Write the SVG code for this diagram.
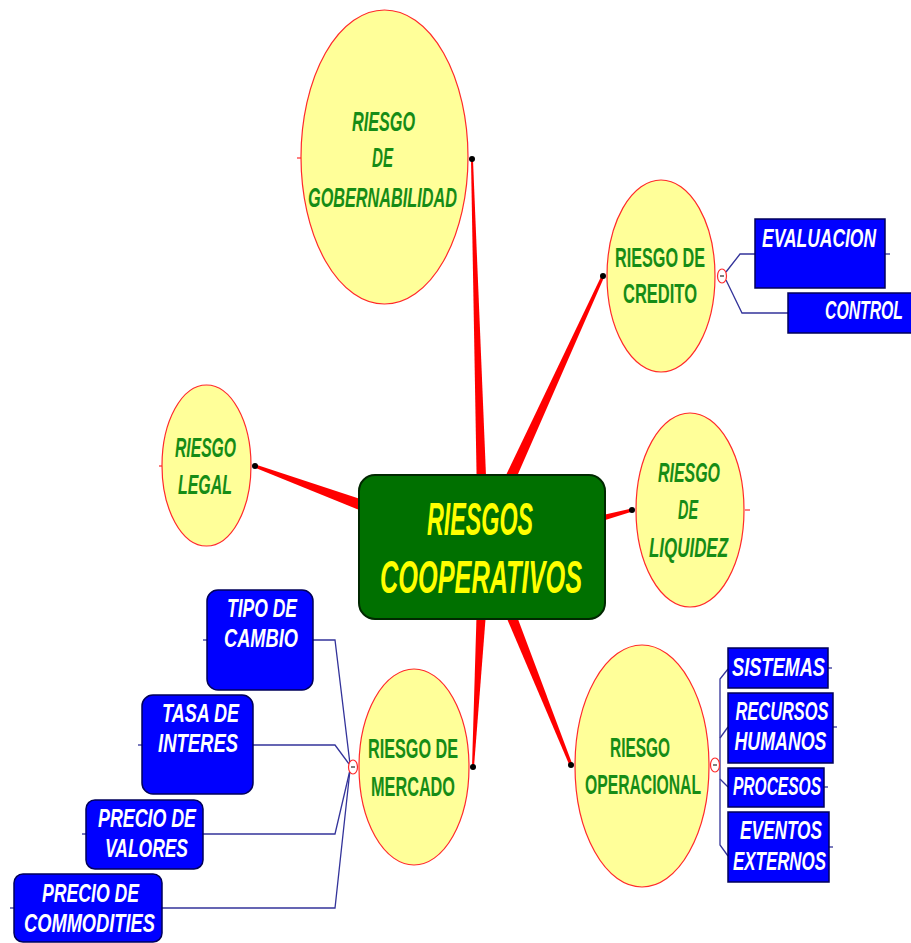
<svg xmlns="http://www.w3.org/2000/svg" width="911" height="943" viewBox="0 0 911 943">
<style>
.ell{fill:#ffff99;stroke:#ff2a2a;stroke-width:1.2}
.et{font-family:"Liberation Sans",Arial,sans-serif;font-size:16px;font-weight:bold;fill:#168c16;text-anchor:middle}
.it{font-style:italic}
.bx{fill:#0000ff;stroke:#00005a;stroke-width:1.5}
.bt{font-family:"Liberation Sans",Arial,sans-serif;font-size:16px;font-weight:bold;font-style:italic;fill:#ffffff;text-anchor:middle}
.ct{font-family:"Liberation Sans",Arial,sans-serif;font-size:25px;font-weight:bold;font-style:italic;fill:#ffff00;text-anchor:middle}
.red{fill:#ff0000}
.dot{fill:#000000}
.bl{fill:none;stroke:#33339a;stroke-width:1.3}
.col{fill:#ffffff;stroke:#ff2a2a;stroke-width:1.2}
.tick{stroke:#ff2a2a;stroke-width:1.2}
</style>
<rect width="911" height="943" fill="#ffffff"/>
<g id="connectors">
<polygon class="red" points="471,160 473,160 487,500 477,500"/>
<polygon class="red" points="604.4,276.6 601.6,275.4 500,487.7 510,492.3"/>
<polygon class="red" points="254.5,467.4 255.5,464.6 377,504.4 373,515.6"/>
<polygon class="red" points="632.4,511.5 631.6,508.6 594.2,517.1 595.8,522.9"/>
<polygon class="red" points="472,767 474,767 487,600 477,600"/>
<polygon class="red" points="572.4,764.4 569.6,765.6 499.9,602 510.1,598"/>
<circle class="dot" cx="472" cy="159" r="3"/>
<circle class="dot" cx="603" cy="276" r="3"/>
<circle class="dot" cx="255" cy="466" r="3"/>
<circle class="dot" cx="632" cy="510" r="3"/>
<circle class="dot" cx="473" cy="767" r="3"/>
<circle class="dot" cx="571" cy="765" r="3"/>
<line class="tick" x1="297" y1="158" x2="302" y2="158"/>
<line class="tick" x1="745" y1="510" x2="750" y2="510"/>
<line class="tick" x1="159" y1="466" x2="163" y2="466"/>
<polyline class="bl" points="726,272 740,254 755,254"/>
<polyline class="bl" points="726,280 742,313 788,313"/>
<polyline class="bl" points="313,640 335,640 350,764"/>
<polyline class="bl" points="253,745 335,745 349,764"/>
<polyline class="bl" points="203,834 335,834 350,770"/>
<polyline class="bl" points="162,908 335,908 350,770"/>
<polyline class="bl" points="728,669 720,679 720,845 728,856"/>
<polyline class="bl" points="728,727 720,738"/>
<polyline class="bl" points="728,787 720,779"/>
<line class="bl" x1="885" y1="254" x2="890" y2="254"/>
<line class="bl" x1="828" y1="668" x2="832" y2="668"/>
<line class="bl" x1="833" y1="727" x2="837" y2="727"/>
<line class="bl" x1="824" y1="787" x2="828" y2="787"/>
<line class="bl" x1="829" y1="847" x2="833" y2="847"/>
<line class="bl" x1="203" y1="640" x2="207" y2="640"/>
<line class="bl" x1="138" y1="745" x2="142" y2="745"/>
<line class="bl" x1="82" y1="834" x2="86" y2="834"/>
<line class="bl" x1="10" y1="908" x2="14" y2="908"/>
<ellipse class="col" cx="722" cy="276" rx="4.5" ry="7"/>
<line x1="720" y1="276" x2="724" y2="276" stroke="#555" stroke-width="1.5"/>
<ellipse class="col" cx="353" cy="767" rx="4.5" ry="7"/>
<line x1="351" y1="767" x2="355" y2="767" stroke="#555" stroke-width="1.5"/>
<ellipse class="col" cx="715" cy="765" rx="4.5" ry="7"/>
<line x1="713" y1="765" x2="717" y2="765" stroke="#555" stroke-width="1.5"/>
</g>
<g id="central">
<rect x="359" y="475" width="246" height="144" rx="16" fill="#007000" stroke="#002800" stroke-width="2"/>
<text class="ct" transform="translate(480,535) scale(1,1.84)" textLength="106" lengthAdjust="spacingAndGlyphs">RIESGOS</text>
<text class="ct" transform="translate(481,593) scale(1,1.84)" textLength="202" lengthAdjust="spacingAndGlyphs">COOPERATIVOS</text>
</g>
<g id="gobernabilidad">
<ellipse class="ell" cx="384.5" cy="157" rx="83.5" ry="147"/>
<text class="et it" transform="translate(383.5,131) scale(1,1.7)" textLength="63" lengthAdjust="spacingAndGlyphs">RIESGO</text>
<text class="et it" transform="translate(382.5,167) scale(1,1.7)" textLength="21" lengthAdjust="spacingAndGlyphs">DE</text>
<text class="et it" transform="translate(382.5,207) scale(1,1.7)" textLength="149" lengthAdjust="spacingAndGlyphs">GOBERNABILIDAD</text>
</g>
<g id="credito">
<ellipse class="ell" cx="661" cy="276" rx="54" ry="96"/>
<text class="et" transform="translate(660,267) scale(1,1.7)" textLength="90" lengthAdjust="spacingAndGlyphs">RIESGO DE</text>
<text class="et" transform="translate(660,303) scale(1,1.7)" textLength="74" lengthAdjust="spacingAndGlyphs">CREDITO</text>
</g>
<g id="legal">
<ellipse class="ell" cx="206.5" cy="465.5" rx="44.5" ry="80.5"/>
<text class="et it" transform="translate(205.5,457) scale(1,1.7)" textLength="61" lengthAdjust="spacingAndGlyphs">RIESGO</text>
<text class="et it" transform="translate(205,494) scale(1,1.7)" textLength="54" lengthAdjust="spacingAndGlyphs">LEGAL</text>
</g>
<g id="liquidez">
<ellipse class="ell" cx="690" cy="510" rx="54" ry="97"/>
<text class="et it" transform="translate(689,482) scale(1,1.7)" textLength="62" lengthAdjust="spacingAndGlyphs">RIESGO</text>
<text class="et it" transform="translate(688,519) scale(1,1.7)" textLength="20" lengthAdjust="spacingAndGlyphs">DE</text>
<text class="et it" transform="translate(688.5,557) scale(1,1.7)" textLength="79" lengthAdjust="spacingAndGlyphs">LIQUIDEZ</text>
</g>
<g id="mercado">
<ellipse class="ell" cx="414" cy="767" rx="55" ry="98"/>
<text class="et" transform="translate(413,758) scale(1,1.7)" textLength="90" lengthAdjust="spacingAndGlyphs">RIESGO DE</text>
<text class="et" transform="translate(413,796) scale(1,1.7)" textLength="84" lengthAdjust="spacingAndGlyphs">MERCADO</text>
</g>
<g id="operacional">
<ellipse class="ell" cx="642" cy="766" rx="67" ry="121"/>
<text class="et" transform="translate(640,757) scale(1,1.7)" textLength="60" lengthAdjust="spacingAndGlyphs">RIESGO</text>
<text class="et" transform="translate(643,794) scale(1,1.7)" textLength="116" lengthAdjust="spacingAndGlyphs">OPERACIONAL</text>
</g>
<g id="evaluacion">
<rect class="bx" x="755" y="219" width="130" height="69"/>
<text class="bt" transform="translate(819,247) scale(1,1.62)" textLength="114" lengthAdjust="spacingAndGlyphs">EVALUACION</text>
</g>
<g id="control">
<rect class="bx" x="788" y="293" width="125" height="40"/>
<text class="bt" transform="translate(864,319) scale(1,1.62)" textLength="78" lengthAdjust="spacingAndGlyphs">CONTROL</text>
</g>
<g id="tipo-cambio">
<rect class="bx" x="207" y="590" width="106" height="100" rx="11"/>
<text class="bt" transform="translate(262,617) scale(1,1.62)" textLength="70" lengthAdjust="spacingAndGlyphs">TIPO DE</text>
<text class="bt" transform="translate(261,647) scale(1,1.62)" textLength="74" lengthAdjust="spacingAndGlyphs">CAMBIO</text>
</g>
<g id="tasa-interes">
<rect class="bx" x="142" y="695" width="111" height="99" rx="11"/>
<text class="bt" transform="translate(200.5,722) scale(1,1.62)" textLength="77" lengthAdjust="spacingAndGlyphs">TASA DE</text>
<text class="bt" transform="translate(198,752) scale(1,1.62)" textLength="80" lengthAdjust="spacingAndGlyphs">INTERES</text>
</g>
<g id="precio-valores">
<rect class="bx" x="86" y="800" width="117" height="69" rx="9"/>
<text class="bt" transform="translate(147,827) scale(1,1.62)" textLength="98" lengthAdjust="spacingAndGlyphs">PRECIO DE</text>
<text class="bt" transform="translate(146.5,857) scale(1,1.62)" textLength="83" lengthAdjust="spacingAndGlyphs">VALORES</text>
</g>
<g id="precio-commodities">
<rect class="bx" x="14" y="874" width="148" height="68" rx="9"/>
<text class="bt" transform="translate(90.5,902) scale(1,1.62)" textLength="97" lengthAdjust="spacingAndGlyphs">PRECIO DE</text>
<text class="bt" transform="translate(89.5,932) scale(1,1.62)" textLength="131" lengthAdjust="spacingAndGlyphs">COMMODITIES</text>
</g>
<g id="sistemas">
<rect class="bx" x="728" y="648" width="100" height="40"/>
<text class="bt" transform="translate(778.5,676) scale(1,1.62)" textLength="93" lengthAdjust="spacingAndGlyphs">SISTEMAS</text>
</g>
<g id="recursos-humanos">
<rect class="bx" x="728" y="693" width="105" height="70"/>
<text class="bt" transform="translate(782,720) scale(1,1.62)" textLength="93" lengthAdjust="spacingAndGlyphs">RECURSOS</text>
<text class="bt" transform="translate(780.5,750) scale(1,1.62)" textLength="92" lengthAdjust="spacingAndGlyphs">HUMANOS</text>
</g>
<g id="procesos">
<rect class="bx" x="728" y="768" width="96" height="39"/>
<text class="bt" transform="translate(777,795) scale(1,1.62)" textLength="88" lengthAdjust="spacingAndGlyphs">PROCESOS</text>
</g>
<g id="eventos-externos">
<rect class="bx" x="728" y="812" width="101" height="70"/>
<text class="bt" transform="translate(781,839) scale(1,1.62)" textLength="82" lengthAdjust="spacingAndGlyphs">EVENTOS</text>
<text class="bt" transform="translate(779.5,870) scale(1,1.62)" textLength="93" lengthAdjust="spacingAndGlyphs">EXTERNOS</text>
</g>
</svg>
